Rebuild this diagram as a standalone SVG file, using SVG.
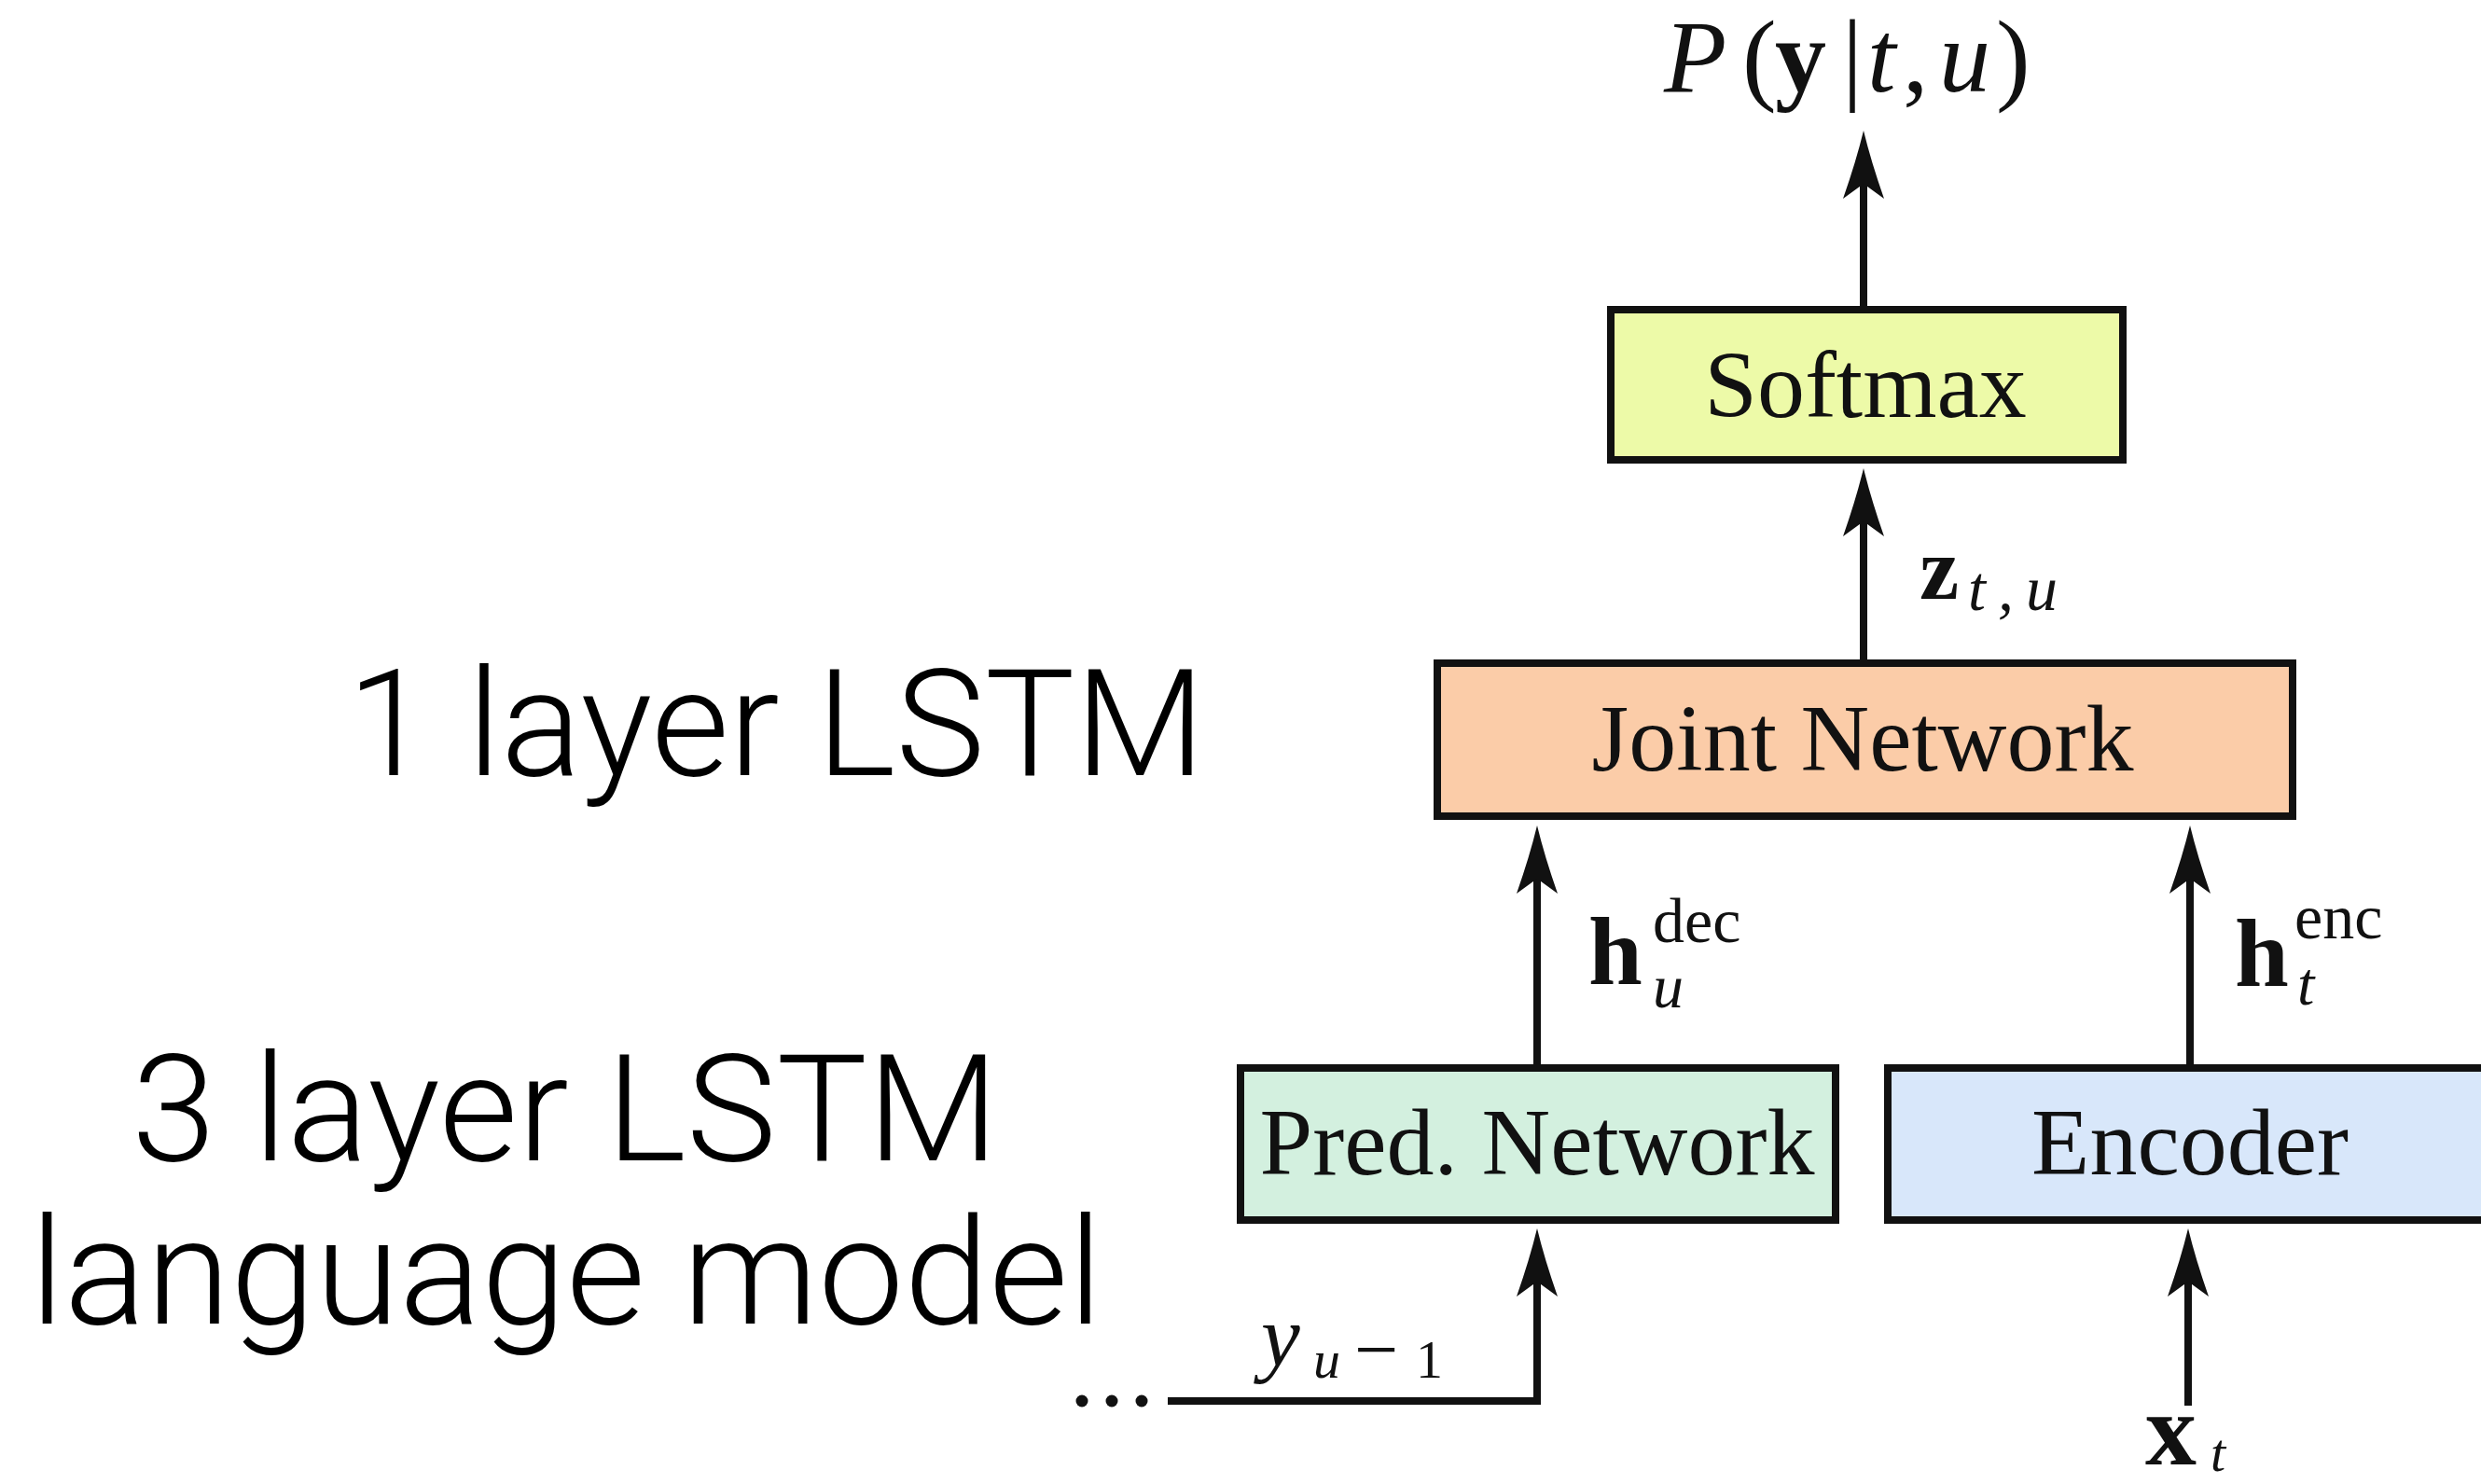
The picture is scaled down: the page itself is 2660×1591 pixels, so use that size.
<svg xmlns="http://www.w3.org/2000/svg" width="2660" height="1591" viewBox="0 0 2660 1591">
  <style>
    .box { stroke: #111; stroke-width: 8; }
    .lbl { font-family: "Liberation Serif", "Times New Roman", serif; font-size: 102px; fill: #111; text-anchor: middle; }
    .math { font-family: "Liberation Serif", "Times New Roman", serif; fill: #111; }
    .it { font-style: italic; }
    .bf { font-weight: bold; }
    .note { font-family: "Roboto", "Liberation Sans", Arial, sans-serif; font-weight: 300; font-size: 160px; fill: #000; }
    .wire { fill: none; stroke: #111; stroke-width: 8; marker-end: url(#head); }
  </style>
  <defs>
    <marker id="head" markerUnits="userSpaceOnUse" viewBox="0 -26 80 52" markerWidth="80" markerHeight="52" refX="40" refY="0" orient="auto" overflow="visible">
      <path d="M73,0 Q40,-8 0,-22 L16,0 L0,22 Q40,8 73,0 Z" fill="#111"/>
    </marker>
  </defs>
  <rect width="2660" height="1591" fill="#fff"/>

  <!-- side notes -->
  <g id="note-joint">
    <text class="note" x="372" y="831" textLength="920" lengthAdjust="spacingAndGlyphs">1 layer LSTM</text>
  </g>
  <g id="note-pred">
    <text class="note" x="141" y="1244" textLength="930" lengthAdjust="spacingAndGlyphs">3 layer LSTM</text>
    <text class="note" x="32" y="1419" textLength="1150" lengthAdjust="spacingAndGlyphs">language model</text>
  </g>

  <!-- connectors -->
  <g id="connectors">
    <line class="wire" x1="1998" y1="328" x2="1998" y2="173"/>
    <line class="wire" x1="1998" y1="707" x2="1998" y2="535"/>
    <line class="wire" x1="1648" y1="1141" x2="1648" y2="918"/>
    <line class="wire" x1="2348" y1="1141" x2="2348" y2="918"/>
    <path class="wire" d="M1252,1502 H1648 V1350"/>
    <line class="wire" x1="2346" y1="1507" x2="2346" y2="1350"/>
    <g fill="#111">
      <circle cx="1160" cy="1502" r="6.5"/>
      <circle cx="1192" cy="1502" r="6.5"/>
      <circle cx="1224" cy="1502" r="6.5"/>
    </g>
  </g>

  <!-- nodes -->
  <g id="softmax">
    <rect class="box" x="1727" y="332" width="549" height="161" fill="#EDFAA8"/>
    <text class="lbl" x="2000" y="447">Softmax</text>
  </g>
  <g id="joint">
    <rect class="box" x="1541" y="711" width="917" height="164" fill="#FBCCA8"/>
    <text class="lbl" x="1997" y="826">Joint Network</text>
  </g>
  <g id="pred">
    <rect class="box" x="1330" y="1145" width="638" height="163" fill="#D3F0DF"/>
    <text class="lbl" x="1648" y="1259">Pred. Network</text>
  </g>
  <g id="encoder">
    <rect class="box" x="2024" y="1145" width="700" height="163" fill="#D8E7FA"/>
    <text class="lbl" x="2348" y="1259">Encoder</text>
  </g>

  <!-- math labels -->
  <g id="label-output" class="math" font-size="110">
    <text y="98"><tspan class="it" x="1784">P</tspan><tspan x="1868">(</tspan><tspan class="bf" x="1903">y</tspan><tspan x="1975">|</tspan><tspan class="it" x="2002">t</tspan><tspan x="2040">,</tspan><tspan class="it" x="2079">u</tspan><tspan x="2140">)</tspan></text>
  </g>
  <g id="label-z" class="math">
    <text class="bf" x="2058" y="642" font-size="95">z</text>
    <text class="it" y="654" font-size="68"><tspan x="2110">t</tspan><tspan x="2142">,</tspan><tspan x="2172">u</tspan></text>
  </g>
  <g id="label-hdec" class="math">
    <text class="bf" x="1703" y="1055" font-size="104">h</text>
    <text x="1772" y="1010" font-size="68">dec</text>
    <text class="it" x="1772" y="1080" font-size="66">u</text>
  </g>
  <g id="label-henc" class="math">
    <text class="bf" x="2396" y="1057" font-size="104">h</text>
    <text x="2460" y="1006" font-size="68">enc</text>
    <text class="it" x="2463" y="1077" font-size="66">t</text>
  </g>
  <g id="label-x" class="math">
    <text class="bf" x="2300" y="1570" font-size="110">x</text>
    <text class="it" x="2370" y="1577" font-size="58">t</text>
  </g>
  <g id="label-y" class="math">
    <text class="it" x="1352" y="1464" font-size="94">y</text>
    <text y="1477" font-size="58"><tspan class="it" x="1408">u</tspan><tspan x="1452" font-size="84" dy="-2">−</tspan><tspan x="1518" dy="2">1</tspan></text>
  </g>
</svg>
